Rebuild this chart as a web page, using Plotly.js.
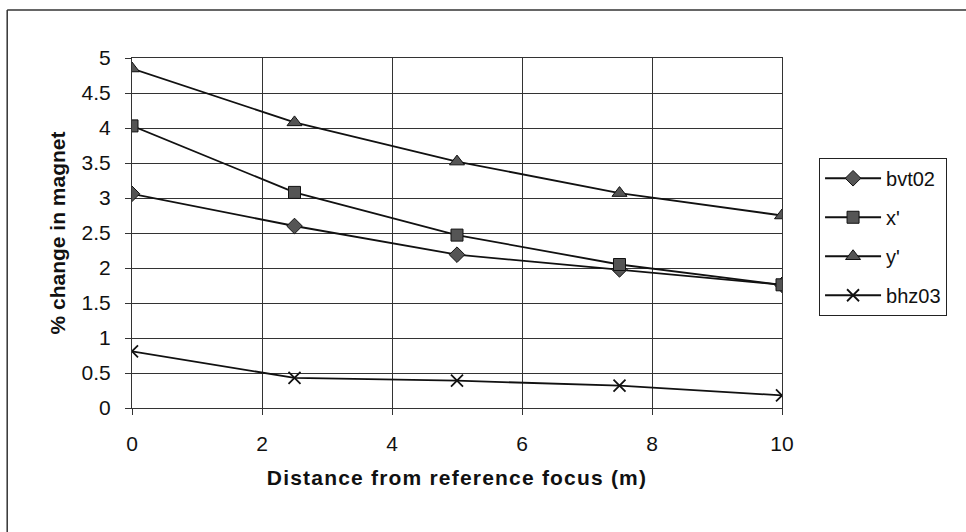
<!DOCTYPE html>
<html>
<head>
<meta charset="utf-8">
<script src="https://cdn.plot.ly/plotly-3.0.1.min.js"></script>
<style>html,body{margin:0;padding:0;background:#fff;}#chart{width:966px;height:532px;}
#chart text.xtitle{letter-spacing:1.2px;}</style>
</head>
<body>
<div id="chart"></div>
<script>
var distance = [0, 2.5, 5, 7.5, 10];
var bvt02 = [3.06, 2.6, 2.19, 1.98, 1.76];
var xPrime = [4.03, 3.08, 2.47, 2.05, 1.76];
var yPrime = [4.85, 4.08, 3.52, 3.07, 2.75];
var bhz03 = [0.81, 0.43, 0.39, 0.32, 0.18];
var seriesNames = ["bvt02", "x'", "y'", "bhz03"];
var xTicks = [0, 2, 4, 6, 8, 10];
var yTicks = [0, 0.5, 1, 1.5, 2, 2.5, 3, 3.5, 4, 4.5, 5];

var font = "Liberation Sans, Arial, sans-serif";
function mk(y, name, sym, size, grp) {
  var isX = sym === 'x-thin';
  return {
    x: distance, y: y, name: name, type: 'scatter', mode: 'lines+markers',
    legendgroup: grp,
    line: {color: '#111', width: 1.8},
    marker: isX ? {symbol: sym, size: size, color: '#111', line: {color: '#111', width: 1.8}}
                : {symbol: sym, size: size, color: '#555', line: {color: '#111', width: 1}}
  };
}
var data = [
  mk(bvt02, seriesNames[0], 'diamond', 12, 'a'),
  mk(xPrime, seriesNames[1], 'square', 12, 'b'),
  mk(yPrime, seriesNames[2], 'triangle-up', 13, 'c'),
  mk(bhz03, seriesNames[3], 'x-thin', 12, 'd')
];
var layout = {
  width: 966, height: 532,
  margin: {l: 132, r: 184, t: 58, b: 124},
  paper_bgcolor: '#fff', plot_bgcolor: '#fff',
  font: {family: font, color: '#111', size: 21},
  showlegend: true,
  legend: {
    x: 1.057, xanchor: 'left', y: 0.715, yanchor: 'top',
    bordercolor: '#222', borderwidth: 1, bgcolor: '#fff',
    font: {family: font, size: 20, color: '#111'},
    traceorder: 'grouped', tracegroupgap: 10, itemwidth: 56
  },
  xaxis: {
    range: [0, 10], tickvals: xTicks, ticktext: xTicks.map(String),
    showgrid: true, gridcolor: '#333', gridwidth: 1,
    showline: true, linecolor: '#333', linewidth: 1, mirror: true,
    ticks: 'outside', ticklen: 6, tickcolor: '#333',
    zeroline: false, ticklabelstandoff: 11,
    tickfont: {family: font, size: 21, color: '#111'},
    title: {text: 'Distance from reference focus (m)', standoff: 16,
            font: {family: font, size: 21, color: '#111', weight: 'bold'}}
  },
  yaxis: {
    range: [0, 5], tickvals: yTicks, ticktext: yTicks.map(String),
    showgrid: true, gridcolor: '#333', gridwidth: 1,
    showline: true, linecolor: '#333', linewidth: 1, mirror: true,
    ticks: 'outside', ticklen: 6, tickcolor: '#333',
    zeroline: false, ticklabelstandoff: 10,
    tickfont: {family: font, size: 21, color: '#111'},
    title: {text: '% change in magnet', standoff: 10,
            font: {family: font, size: 21, color: '#111', weight: 'bold'}}
  },
  shapes: [
    {type: 'line', xref: 'paper', yref: 'paper', x0: -0.192, x1: 1.3, y0: 1.137, y1: 1.137, line: {color: '#333', width: 1.5}},
    {type: 'line', xref: 'paper', yref: 'paper', x0: -0.192, x1: -0.192, y0: 1.137, y1: -0.36, line: {color: '#333', width: 1.5}}
  ]
};
Plotly.newPlot('chart', data, layout, {displayModeBar: false, staticPlot: true});
</script>
</body>
</html>
